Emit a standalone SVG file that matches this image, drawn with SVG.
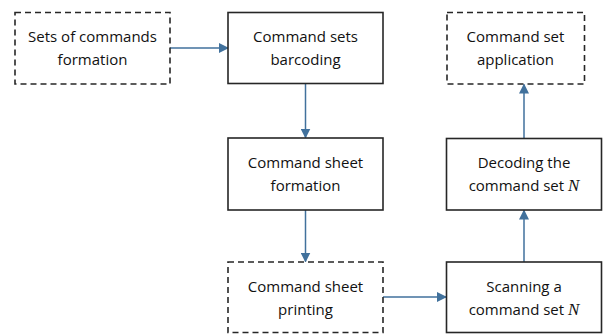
<svg xmlns="http://www.w3.org/2000/svg" width="605" height="334" viewBox="0 0 605 334">
  <style>
    .box { fill: #ffffff; stroke: #262626; stroke-width: 1.6; }
    .dash { stroke-dasharray: 6 4; }
    .lbl { font-family: "Open Sans", "Liberation Sans", sans-serif; font-size: 15px; fill: #111111; text-anchor: middle; }
    .var { font-family: "Liberation Serif", serif; font-style: italic; font-size: 17px; }
    .conn { stroke: #41719c; stroke-width: 1.5; fill: none; marker-end: url(#arrow); }
  </style>
  <defs>
    <marker id="arrow" markerWidth="10" markerHeight="10" refX="9" refY="5" orient="auto" markerUnits="userSpaceOnUse">
      <path d="M0,0 L10,5 L0,10 Z" fill="#41719c"/>
    </marker>
  </defs>

  <g id="connectors">
    <line class="conn" x1="170" y1="48" x2="228" y2="48"/>
    <line class="conn" x1="305.5" y1="83" x2="305.5" y2="137.5"/>
    <line class="conn" x1="305.5" y1="210" x2="305.5" y2="261.5"/>
    <line class="conn" x1="383" y1="297" x2="446" y2="297"/>
    <line class="conn" x1="524" y1="262" x2="524" y2="210.5"/>
    <line class="conn" x1="524" y1="138" x2="524" y2="84.5"/>
  </g>

  <g id="sets-formation">
    <rect class="box dash" x="15" y="12.5" width="155" height="71.5"/>
    <text class="lbl" x="92.5" y="42">Sets of commands</text>
    <text class="lbl" x="92.5" y="65">formation</text>
  </g>

  <g id="sets-barcoding">
    <rect class="box" x="228" y="12.5" width="155" height="71"/>
    <text class="lbl" x="305.5" y="42">Command sets</text>
    <text class="lbl" x="305.5" y="65">barcoding</text>
  </g>

  <g id="set-application">
    <rect class="box dash" x="447" y="12.5" width="137.5" height="71.5"/>
    <text class="lbl" x="515.5" y="42">Command set</text>
    <text class="lbl" x="515.5" y="65">application</text>
  </g>

  <g id="sheet-formation">
    <rect class="box" x="228" y="138" width="155" height="72"/>
    <text class="lbl" x="305.5" y="168">Command sheet</text>
    <text class="lbl" x="305.5" y="191">formation</text>
  </g>

  <g id="set-decoding">
    <rect class="box" x="446.5" y="138.5" width="155" height="71.5"/>
    <text class="lbl" x="524" y="168">Decoding the</text>
    <text class="lbl" x="524" y="191">command set <tspan class="var">N</tspan></text>
  </g>

  <g id="sheet-printing">
    <rect class="box dash" x="228" y="262" width="155" height="70.5"/>
    <text class="lbl" x="305.5" y="292">Command sheet</text>
    <text class="lbl" x="305.5" y="315">printing</text>
  </g>

  <g id="set-scanning">
    <rect class="box" x="446.5" y="262" width="155" height="70.5"/>
    <text class="lbl" x="524" y="292">Scanning a</text>
    <text class="lbl" x="524" y="315">command set <tspan class="var">N</tspan></text>
  </g>
</svg>
